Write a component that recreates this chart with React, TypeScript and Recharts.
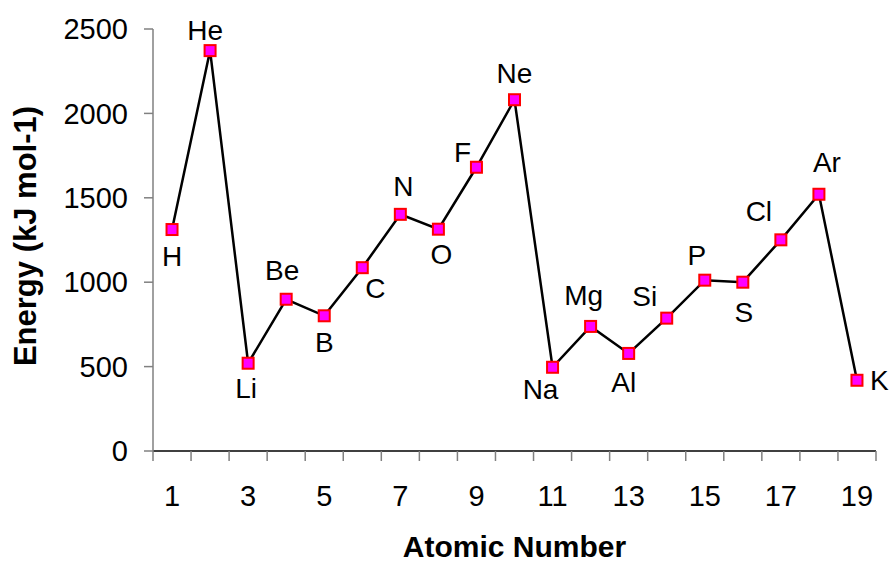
import React from 'react'
import { LineChart, Line, XAxis, YAxis } from 'recharts'

const FONT = '"Liberation Sans", Arial, Helvetica, sans-serif'

// first ionisation energies, kJ/mol
const atomicNumbers = [1, 2, 3, 4, 5, 6, 7, 8, 9, 10, 11, 12, 13, 14, 15, 16, 17, 18, 19]
const symbols = ['H', 'He', 'Li', 'Be', 'B', 'C', 'N', 'O', 'F', 'Ne', 'Na', 'Mg', 'Al', 'Si', 'P', 'S', 'Cl', 'Ar', 'K']
const energies = [1312, 2372, 520, 899, 801, 1086, 1402, 1314, 1681, 2081, 496, 738, 578, 787, 1012, 1000, 1251, 1521, 419]
const yTicks = [0, 500, 1000, 1500, 2000, 2500]
const xTickLabels = [1, 3, 5, 7, 9, 11, 13, 15, 17, 19]

const data = atomicNumbers.map((z, i) => ({ z, symbol: symbols[i], energy: energies[i] }))

// tick marks sit between categories, like Excel
const boundaryTicks = [...atomicNumbers.map((z) => z - 0.5), atomicNumbers[atomicNumbers.length - 1] + 0.5]
const xTicks = [...boundaryTicks, ...xTickLabels].sort((a, b) => a - b)

// hand placed label offsets (dx, dy to baseline)
const placement: Record<string, { dx: number; dy: number; anchor?: string }> = {
  H: { dx: 0, dy: 36 },
  He: { dx: -5, dy: -11 },
  Li: { dx: -2, dy: 35 },
  Be: { dx: -4, dy: -19 },
  B: { dx: 0, dy: 36 },
  C: { dx: 13, dy: 30 },
  N: { dx: 3, dy: -18 },
  O: { dx: 3, dy: 35 },
  F: { dx: -14, dy: -5 },
  Ne: { dx: 0, dy: -17 },
  Na: { dx: -12, dy: 32 },
  Mg: { dx: -7, dy: -21 },
  Al: { dx: -5, dy: 39 },
  Si: { dx: -22, dy: -12 },
  P: { dx: -8, dy: -15 },
  S: { dx: 1, dy: 40 },
  Cl: { dx: -22, dy: -19 },
  Ar: { dx: 8, dy: -22 },
  K: { dx: 13, dy: 10, anchor: 'start' },
}

function XTick({ x, y, payload }: any) {
  const v = payload.value
  if (!Number.isInteger(v)) {
    return <line x1={x} x2={x} y1={y} y2={y + 10} stroke="#808080" strokeWidth={1.5} />
  }
  return (
    <text x={x} y={y + 55} textAnchor="middle" fontSize={29} fill="#000" fontFamily={FONT}>
      {v}
    </text>
  )
}

function ElementDot(props: any) {
  const { cx, cy, payload, index } = props
  const p = placement[payload.symbol] || { dx: 0, dy: -15 }
  return (
    <g key={`dot-${index}`}>
      <rect x={cx - 5.5} y={cy - 5.5} width={11} height={11} fill="#FF00FF" stroke="#FF0000" strokeWidth={2} />
      <text x={cx + p.dx} y={cy + p.dy} textAnchor={p.anchor || 'middle'} fontSize={28} fill="#000" fontFamily={FONT}>
        {payload.symbol}
      </text>
    </g>
  )
}

function YTitle({ viewBox }: any) {
  const cx = 36
  const cy = viewBox.y + viewBox.height / 2 - 4
  return (
    <text x={cx} y={cy} transform={`rotate(-90, ${cx}, ${cy})`} textAnchor="middle" fontSize={31} fontWeight="bold" fill="#000" fontFamily={FONT}>
      Energy (kJ mol-1)
    </text>
  )
}

function XTitle({ viewBox }: any) {
  return (
    <text x={viewBox.x + viewBox.width / 2} y={viewBox.y + 106} textAnchor="middle" fontSize={30} fontWeight="bold" fill="#000" fontFamily={FONT}>
      Atomic Number
    </text>
  )
}

export default function App() {
  return (
    <div style={{ position: 'absolute', left: 0, top: 0, background: '#fff' }}>
      <LineChart width={889} height={565} data={data} margin={{ top: 29, right: 13, bottom: 0, left: 0 }}>
        <XAxis
          dataKey="z"
          type="number"
          domain={[0.5, 19.5]}
          ticks={xTicks}
          interval={0}
          height={114}
          tickSize={0}
          tickMargin={0}
          tickLine={false}
          axisLine={{ stroke: '#000', strokeWidth: 1.5 }}
          tick={<XTick />}
          label={{ content: <XTitle /> }}
        />
        <YAxis
          domain={[0, 2500]}
          ticks={yTicks}
          interval={0}
          width={153}
          tickSize={9}
          tickMargin={16}
          axisLine={{ stroke: '#808080', strokeWidth: 1.5 }}
          tickLine={{ stroke: '#808080', strokeWidth: 1.5 }}
          tick={{ fill: '#000', fontSize: 29, fontFamily: FONT }}
          label={{ content: <YTitle /> }}
        />
        <Line
          dataKey="energy"
          type="linear"
          stroke="#000"
          strokeWidth={2.5}
          dot={(p: any) => <ElementDot {...p} />}
          activeDot={false}
          isAnimationActive={false}
        />
      </LineChart>
    </div>
  )
}
